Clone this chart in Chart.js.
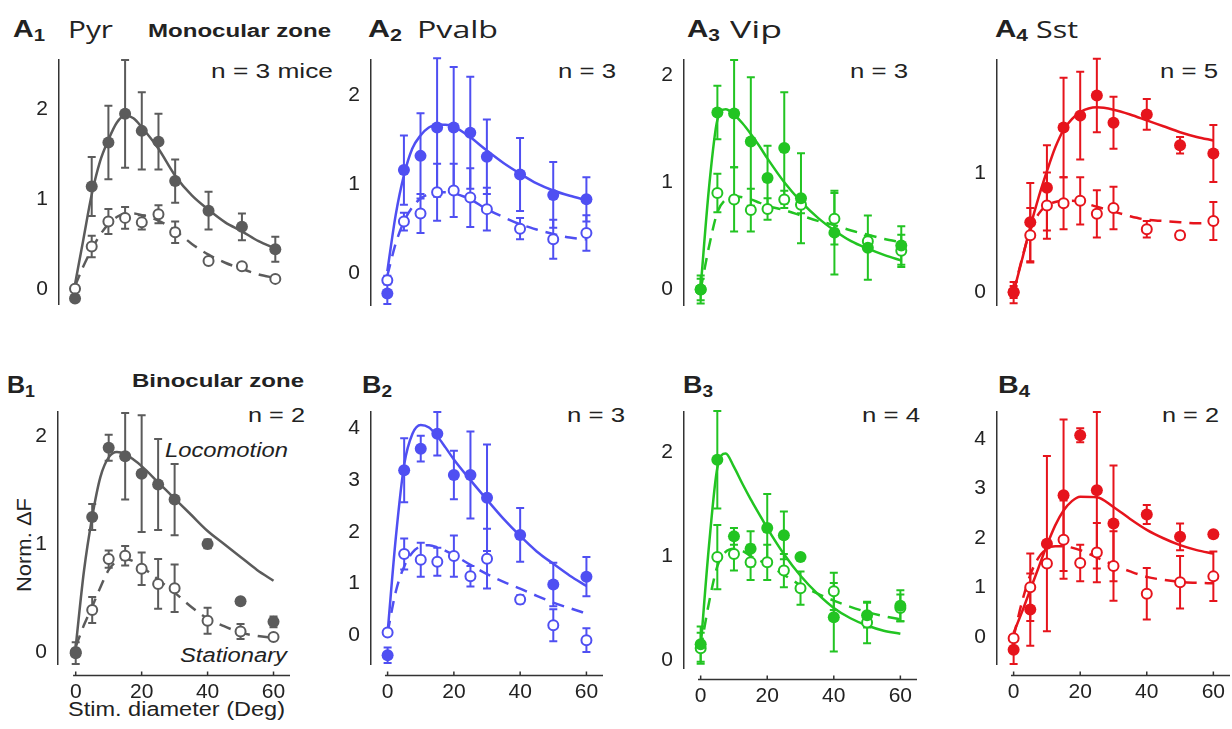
<!DOCTYPE html>
<html>
<head>
<meta charset="utf-8">
<script src="https://cdn.jsdelivr.net/npm/chart.js@4"></script>
<style>
  body { margin: 0; background: #fff; width: 1232px; height: 729px; position: relative; overflow: hidden; }
  .panel { position: absolute; }
  .txt { position: absolute; white-space: nowrap; line-height: 1; color: #222; font-family: "Liberation Sans", Arial, sans-serif; transform-origin: left center; }
  .lbl { font-weight: bold; font-size: 24px; }
  .lbl sub { font-size: 17px; vertical-align: -4px; line-height: 1; }
  .cell { font-family: "Open Sans", sans-serif; font-size: 23px; color: #222; }
  .zone { font-weight: bold; font-size: 18px; }
  .n { font-size: 20px; }
  .it { font-style: italic; font-size: 20px; }
</style>
</head>
<body>
<!-- panel letters and cell types -->
<div class="txt lbl" style="left:13px;top:16.7px" data-w="32">A<sub>1</sub></div>
<div class="txt cell" style="left:68px;top:17.6px" data-w="45">Pyr</div>
<div class="txt lbl" style="left:368px;top:16.7px" data-w="34">A<sub>2</sub></div>
<div class="txt cell" style="left:417px;top:17.6px" data-w="81">Pvalb</div>
<div class="txt lbl" style="left:687px;top:16.7px" data-w="33">A<sub>3</sub></div>
<div class="txt cell" style="left:730px;top:17.6px" data-w="52">Vip</div>
<div class="txt lbl" style="left:995px;top:16.7px" data-w="33">A<sub>4</sub></div>
<div class="txt cell" style="left:1036px;top:17.6px" data-w="42">Sst</div>
<div class="txt lbl" style="left:7px;top:372.7px" data-w="28">B<sub>1</sub></div>
<div class="txt lbl" style="left:362px;top:372.7px" data-w="30">B<sub>2</sub></div>
<div class="txt lbl" style="left:683px;top:372.7px" data-w="30">B<sub>3</sub></div>
<div class="txt lbl" style="left:998px;top:372.7px" data-w="32">B<sub>4</sub></div>

<div class="txt zone" style="left:148px;top:21.8px" data-w="183">Monocular zone</div>
<div class="txt zone" style="left:132px;top:371.8px" data-w="172">Binocular zone</div>

<!-- number of mice -->
<div class="txt n" style="left:211px;top:61.1px" data-w="122">n = 3 mice</div>
<div class="txt n" style="left:558px;top:61.1px" data-w="58">n = 3</div>
<div class="txt n" style="left:850px;top:61.1px" data-w="58">n = 3</div>
<div class="txt n" style="left:1160px;top:61.1px" data-w="58">n = 5</div>
<div class="txt n" style="left:248px;top:405.1px" data-w="57">n = 2</div>
<div class="txt n" style="left:567px;top:405.1px" data-w="58">n = 3</div>
<div class="txt n" style="left:862px;top:405.1px" data-w="58">n = 4</div>
<div class="txt n" style="left:1162px;top:405.1px" data-w="57">n = 2</div>

<div class="txt it" style="left:165px;top:440.1px" data-w="123">Locomotion</div>
<div class="txt it" style="left:180px;top:645px" data-w="107">Stationary</div>
<div class="txt n" style="left:68px;top:699px" data-w="217">Stim. diameter (Deg)</div>
<div class="txt n" style="left:-36px;top:535px;width:120px;text-align:center;transform-origin:center center;transform:rotate(-90deg) scaleX(1.1)">Norm. ΔF</div>

<script>
// Stimulus diameters (deg) and sample positions along the fitted curves
const diameters = [0, 5, 10, 15, 20, 25, 30, 40, 50, 60];
const fitDiameters = [0, 2.5, 5, 7.5, 10, 12.5, 15, 17.5, 20, 25, 30, 35, 40, 45, 50, 55, 60];
const xTicks = [0, 20, 40, 60];

// A1 Pyr, monocular
const pyrMonoLoco = [-0.11, 1.14, 1.63, 1.95, 1.76, 1.64, 1.2, 0.87, 0.69, 0.44];
const pyrMonoLocoErr = [0.03, 0.33, 0.41, 0.6, 0.43, 0.31, 0.24, 0.21, 0.15, 0.14];
const pyrMonoStat = [0.0, 0.47, 0.75, 0.79, 0.74, 0.83, 0.63, 0.31, 0.25, 0.11];
const pyrMonoStatErr = [0.02, 0.12, 0.14, 0.12, 0.08, 0.1, 0.12, 0.02, 0.03, 0.02];
const pyrMonoLocoFit = [0.05, 0.55, 1.05, 1.42, 1.66, 1.85, 1.93, 1.9, 1.8, 1.56, 1.26, 1.04, 0.88, 0.74, 0.64, 0.53, 0.45];
const pyrMonoStatFit = [0.03, 0.25, 0.44, 0.6, 0.72, 0.8, 0.84, 0.84, 0.82, 0.76, 0.65, 0.5, 0.38, 0.29, 0.22, 0.16, 0.12];

// A2 Pvalb, monocular
const pvalbMonoLoco = [-0.23, 1.16, 1.32, 1.64, 1.64, 1.58, 1.31, 1.11, 0.88, 0.83];
const pvalbMonoLocoErr = [0.12, 0.39, 0.48, 0.78, 0.68, 0.63, 0.42, 0.41, 0.37, 0.25];
const pvalbMonoStat = [-0.08, 0.58, 0.67, 0.91, 0.93, 0.85, 0.72, 0.5, 0.38, 0.45];
const pvalbMonoStatErr = [0.05, 0.1, 0.22, 0.32, 0.3, 0.33, 0.24, 0.12, 0.22, 0.2];
const pvalbMonoLocoFit = [0.02, 0.65, 1.1, 1.4, 1.55, 1.64, 1.67, 1.67, 1.65, 1.53, 1.38, 1.24, 1.12, 1.01, 0.93, 0.87, 0.82];
const pvalbMonoStatFit = [-0.03, 0.33, 0.58, 0.74, 0.84, 0.89, 0.91, 0.91, 0.9, 0.83, 0.72, 0.63, 0.55, 0.49, 0.44, 0.4, 0.38];

// A3 Vip, monocular
const vipMonoLoco = [0.0, 1.65, 1.64, 1.38, 1.04, 1.32, 0.85, 0.53, 0.39, 0.41];
const vipMonoLocoErr = [0.13, 0.25, 0.5, 0.6, 0.3, 0.52, 0.42, 0.39, 0.3, 0.18];
const vipMonoStat = [0.0, 0.9, 0.84, 0.74, 0.75, 0.84, 0.79, 0.66, 0.45, 0.36];
const vipMonoStatErr = [0.1, 0.18, 0.3, 0.2, 0.1, 0.08, 0.08, 0.24, 0.05, 0.15];
const vipMonoLocoFit = [0.02, 0.95, 1.58, 1.68, 1.63, 1.55, 1.45, 1.34, 1.22, 1.0, 0.82, 0.67, 0.55, 0.45, 0.38, 0.32, 0.27];
const vipMonoStatFit = [0.0, 0.4, 0.72, 0.84, 0.87, 0.86, 0.84, 0.81, 0.78, 0.74, 0.69, 0.64, 0.6, 0.55, 0.51, 0.47, 0.44];

// A4 Sst, monocular
const sstMonoLoco = [-0.005, 0.59, 0.88, 1.39, 1.49, 1.66, 1.43, 1.5, 1.24, 1.17];
const sstMonoLocoErr = [0.09, 0.33, 0.36, 0.42, 0.37, 0.31, 0.22, 0.13, 0.07, 0.24];
const sstMonoStat = [0.0, 0.48, 0.73, 0.75, 0.77, 0.66, 0.71, 0.53, 0.48, 0.6];
const sstMonoStatErr = [0.05, 0.23, 0.28, 0.22, 0.2, 0.2, 0.18, 0.07, 0.03, 0.16];
const sstMonoLocoFit = [0.0, 0.27, 0.55, 0.8, 1.02, 1.22, 1.37, 1.46, 1.52, 1.56, 1.54, 1.5, 1.45, 1.4, 1.35, 1.31, 1.28];
const sstMonoStatFit = [0.0, 0.28, 0.52, 0.66, 0.73, 0.76, 0.77, 0.77, 0.76, 0.72, 0.68, 0.64, 0.61, 0.6, 0.59, 0.58, 0.58];

// B1 Pyr, binocular
const pyrBinoLoco = [-0.01, 1.25, 1.89, 1.81, 1.65, 1.55, 1.41, 1.0, 0.47, 0.28];
const pyrBinoLocoErr = [0.1, 0.12, 0.12, 0.4, 0.54, 0.42, 0.33, 0.04, 0.02, 0.05];
const pyrBinoStat = [0.0, 0.39, 0.86, 0.89, 0.77, 0.63, 0.59, 0.29, 0.19, 0.14];
const pyrBinoStatErr = [0.03, 0.12, 0.08, 0.09, 0.15, 0.23, 0.22, 0.12, 0.07, 0.02];
const pyrBinoLocoFit = [0.05, 0.75, 1.25, 1.62, 1.8, 1.85, 1.83, 1.78, 1.72, 1.57, 1.42, 1.27, 1.12, 1.0, 0.88, 0.76, 0.66];
const pyrBinoStatFit = [0.05, 0.25, 0.42, 0.6, 0.76, 0.84, 0.86, 0.84, 0.79, 0.67, 0.55, 0.42, 0.31, 0.24, 0.18, 0.15, 0.13];

// B2 Pvalb, binocular
const pvalbBinoLoco = [-0.39, 3.19, 3.61, 3.9, 3.1, 3.1, 2.66, 1.94, 0.98, 1.13];
const pvalbBinoLocoErr = [0.15, 0.62, 0.25, 0.42, 0.47, 0.84, 1.03, 0.52, 0.42, 0.38];
const pvalbBinoStat = [0.05, 1.57, 1.46, 1.42, 1.53, 1.14, 1.48, 0.69, 0.19, -0.1];
const pvalbBinoStatErr = [0.03, 0.3, 0.33, 0.27, 0.4, 0.2, 0.58, 0.08, 0.31, 0.23];
const pvalbBinoLocoFit = [0.05, 1.9, 3.3, 3.9, 4.07, 4.02, 3.85, 3.63, 3.4, 3.0, 2.62, 2.25, 1.92, 1.62, 1.38, 1.15, 0.95];
const pvalbBinoStatFit = [0.05, 0.85, 1.33, 1.6, 1.72, 1.74, 1.7, 1.63, 1.55, 1.36, 1.18, 1.03, 0.9, 0.76, 0.63, 0.52, 0.42];

// B3 Vip, binocular
const vipBinoLoco = [0.15, 1.93, 1.19, 1.07, 1.27, 1.2, 0.99, 0.41, 0.43, 0.52];
const vipBinoLocoErr = [0.17, 0.47, 0.08, 0.17, 0.33, 0.23, 0.02, 0.33, 0.12, 0.15];
const vipBinoStat = [0.11, 0.99, 1.02, 0.94, 0.94, 0.86, 0.69, 0.66, 0.36, 0.5];
const vipBinoStatErr = [0.15, 0.31, 0.16, 0.17, 0.17, 0.16, 0.16, 0.18, 0.2, 0.13];
const vipBinoLocoFit = [0.12, 1.1, 1.85, 1.99, 1.86, 1.7, 1.55, 1.41, 1.27, 1.02, 0.81, 0.64, 0.5, 0.4, 0.33, 0.28, 0.25];
const vipBinoStatFit = [0.1, 0.55, 0.9, 1.04, 1.07, 1.05, 1.0, 0.96, 0.92, 0.82, 0.72, 0.64, 0.57, 0.51, 0.46, 0.42, 0.39];

// B4 Sst, binocular
const sstBinoLoco = [-0.26, 0.55, 1.88, 2.86, 4.07, 2.96, 2.29, 2.47, 2.02, 2.07];
const sstBinoLocoErr = [0.29, 0.73, 1.77, 1.53, 0.14, 1.58, 1.17, 0.19, 0.27, 0.03];
const sstBinoStat = [-0.03, 1.0, 1.48, 1.96, 1.49, 1.7, 1.43, 0.87, 1.1, 1.22];
const sstBinoStatErr = [0.06, 0.68, 0.05, 0.79, 0.37, 0.6, 0.7, 0.52, 0.53, 0.5];
const sstBinoLocoFit = [0.08, 0.5, 0.95, 1.4, 1.85, 2.25, 2.55, 2.74, 2.83, 2.82, 2.62, 2.38, 2.16, 1.99, 1.85, 1.75, 1.68];
const sstBinoStatFit = [0.0, 0.7, 1.25, 1.6, 1.78, 1.83, 1.83, 1.8, 1.75, 1.6, 1.45, 1.32, 1.21, 1.15, 1.11, 1.09, 1.08];

// y tick values per panel
const yTicks012 = [0, 1, 2];
const yTicks01 = [0, 1];
const yTicks01234 = [0, 1, 2, 3, 4];

// colours
const grayCol = "#5b5b5b";
const blueCol = "#4f4ff2";
const greenCol = "#22c422";
const redCol = "#e6141c";

// Panel layout (pixel boxes of the axes in the page)
const panels = [
  { color: grayCol, loco: pyrMonoLoco, locoErr: pyrMonoLocoErr, stat: pyrMonoStat, statErr: pyrMonoStatErr, locoFit: pyrMonoLocoFit, statFit: pyrMonoStatFit,
    yMin: -0.17, yMax: 2.55, yTicks: yTicks012, axisX: 59, x0: 75, x60: 275, top: 60, bottom: 312, xAxis: false },
  { color: blueCol, loco: pvalbMonoLoco, locoErr: pvalbMonoLocoErr, stat: pvalbMonoStat, statErr: pvalbMonoStatErr, locoFit: pvalbMonoLocoFit, statFit: pvalbMonoStatFit,
    yMin: -0.36, yMax: 2.4, yTicks: yTicks012, axisX: 371, x0: 387.3, x60: 586, top: 60, bottom: 312.7, xAxis: false },
  { color: greenCol, loco: vipMonoLoco, locoErr: vipMonoLocoErr, stat: vipMonoStat, statErr: vipMonoStatErr, locoFit: vipMonoLocoFit, statFit: vipMonoStatFit,
    yMin: -0.145, yMax: 2.14, yTicks: yTicks012, axisX: 684, x0: 700.7, x60: 901.7, top: 60, bottom: 312.7, xAxis: false },
  { color: redCol, loco: sstMonoLoco, locoErr: sstMonoLocoErr, stat: sstMonoStat, statErr: sstMonoStatErr, locoFit: sstMonoLocoFit, statFit: sstMonoStatFit,
    yMin: -0.11, yMax: 1.96, yTicks: yTicks01, axisX: 996.7, x0: 1013.3, x60: 1212.7, top: 60, bottom: 312.7, xAxis: false },
  { color: grayCol, loco: pyrBinoLoco, locoErr: pyrBinoLocoErr, stat: pyrBinoStat, statErr: pyrBinoStatErr, locoFit: pyrBinoLocoFit, statFit: pyrBinoStatFit,
    yMin: -0.11, yMax: 2.22, yTicks: yTicks012, axisX: 58, x0: 75.7, x60: 273.3, top: 411.7, bottom: 663.3, xAxis: true },
  { color: blueCol, loco: pvalbBinoLoco, locoErr: pvalbBinoLocoErr, stat: pvalbBinoStat, statErr: pvalbBinoStatErr, locoFit: pvalbBinoLocoFit, statFit: pvalbBinoStatFit,
    yMin: -0.56, yMax: 4.32, yTicks: yTicks01234, axisX: 370.7, x0: 387.3, x60: 586, top: 411.7, bottom: 664, xAxis: true },
  { color: greenCol, loco: vipBinoLoco, locoErr: vipBinoLocoErr, stat: vipBinoStat, statErr: vipBinoStatErr, locoFit: vipBinoLocoFit, statFit: vipBinoStatFit,
    yMin: -0.08, yMax: 2.39, yTicks: yTicks012, axisX: 684, x0: 700.7, x60: 900.7, top: 412.3, bottom: 668.3, xAxis: true },
  { color: redCol, loco: sstBinoLoco, locoErr: sstBinoLocoErr, stat: sstBinoStat, statErr: sstBinoStatErr, locoFit: sstBinoLocoFit, statFit: sstBinoStatFit,
    yMin: -0.55, yMax: 4.54, yTicks: yTicks01234, axisX: 996.7, x0: 1013.3, x60: 1212.7, top: 411.7, bottom: 664, xAxis: true },
];

// Error bars drawn under the markers, using the chart's y scale
const errorBarPlugin = {
  id: "errorBars",
  beforeDatasetsDraw(chart) {
    const ctx = chart.ctx;
    const yScale = chart.scales.y;
    chart.data.datasets.forEach((ds, i) => {
      if (!ds.errorBars) return;
      const meta = chart.getDatasetMeta(i);
      ctx.save();
      ctx.strokeStyle = ds.borderColor;
      ctx.lineWidth = 2;
      meta.data.forEach((pt, j) => {
        const v = ds.data[j].y;
        const e = ds.errorBars[j];
        const top = yScale.getPixelForValue(v + e);
        const bot = yScale.getPixelForValue(v - e);
        ctx.beginPath();
        ctx.moveTo(pt.x, top);
        ctx.lineTo(pt.x, bot);
        ctx.moveTo(pt.x - 4, top);
        ctx.lineTo(pt.x + 4, top);
        ctx.moveTo(pt.x - 4, bot);
        ctx.lineTo(pt.x + 4, bot);
        ctx.stroke();
      });
      ctx.restore();
    });
  },
};

// Detached x axis line below the plot (MATLAB-style offset axes)
const offsetAxisPlugin = {
  id: "offsetAxis",
  afterDraw(chart, args, opts) {
    if (!opts.show) return;
    const x = chart.scales.x;
    const area = chart.chartArea;
    const ctx = chart.ctx;
    const yLine = area.bottom + opts.gap;
    ctx.save();
    ctx.strokeStyle = "#333";
    ctx.lineWidth = 1.5;
    ctx.beginPath();
    ctx.moveTo(x.getPixelForValue(opts.from), yLine);
    ctx.lineTo(area.right, yLine);
    opts.ticks.forEach((v) => {
      const px = x.getPixelForValue(v);
      ctx.moveTo(px, yLine);
      ctx.lineTo(px, yLine - 4);
    });
    ctx.stroke();
    ctx.restore();
  },
};

const toPoints = (xs, ys) => xs.map((x, i) => ({ x: x, y: ys[i] }));

const padL = 50, padR = 8, padT = 8;

panels.forEach((p) => {
  const pxPerDeg = (p.x60 - p.x0) / 60;
  const xMin = -(p.x0 - p.axisX) / pxPerDeg;
  const areaW = (65 - xMin) * pxPerDeg;
  const bottomSpace = p.xAxis ? 42 : 8;
  const w = Math.round(padL + areaW + padR);
  const h = Math.round(padT + (p.bottom - p.top) + bottomSpace);

  const wrap = document.createElement("div");
  wrap.className = "panel";
  wrap.style.left = p.axisX - padL + "px";
  wrap.style.top = p.top - padT + "px";
  wrap.style.width = w + "px";
  wrap.style.height = h + "px";
  const canvas = document.createElement("canvas");
  canvas.width = w;
  canvas.height = h;
  wrap.appendChild(canvas);
  document.body.appendChild(wrap);

  new Chart(canvas.getContext("2d"), {
    type: "scatter",
    data: {
      datasets: [
        {
          label: "Locomotion",
          data: toPoints(diameters, p.loco),
          errorBars: p.locoErr,
          backgroundColor: p.color,
          borderColor: p.color,
          pointRadius: 6,
          pointBorderWidth: 0,
          clip: false,
        },
        {
          label: "Stationary",
          data: toPoints(diameters, p.stat),
          errorBars: p.statErr,
          backgroundColor: "#ffffff",
          borderColor: p.color,
          pointRadius: 5,
          pointBorderWidth: 2,
          clip: false,
        },
        {
          label: "Locomotion fit",
          data: toPoints(fitDiameters, p.locoFit),
          showLine: true,
          borderColor: p.color,
          borderWidth: 2.5,
          pointRadius: 0,
          cubicInterpolationMode: "monotone",
          clip: false,
        },
        {
          label: "Stationary fit",
          data: toPoints(fitDiameters, p.statFit),
          showLine: true,
          borderColor: p.color,
          borderWidth: 2.5,
          borderDash: [12, 8],
          pointRadius: 0,
          cubicInterpolationMode: "monotone",
          clip: false,
        },
      ],
    },
    options: {
      responsive: false,
      animation: false,
      layout: {
        autoPadding: false,
        padding: { top: padT, right: padR, left: 0, bottom: p.xAxis ? 0 : bottomSpace },
      },
      plugins: {
        legend: { display: false },
        tooltip: { enabled: false },
        offsetAxis: { show: p.xAxis, gap: 11.5, from: -0.8, ticks: xTicks },
      },
      scales: {
        x: {
          type: "linear",
          min: xMin,
          max: 65,
          display: p.xAxis,
          grid: { display: false, drawTicks: false },
          border: { display: false },
          afterBuildTicks: (s) => { s.ticks = xTicks.map((v) => ({ value: v })); },
          afterFit: (s) => {
            s.height = bottomSpace;
            s.paddingLeft = 0;
            s.paddingRight = 0;
          },
          ticks: {
            padding: 16,
            color: "#222",
            font: { family: "Liberation Sans", size: 21 },
            maxRotation: 0,
          },
        },
        y: {
          min: p.yMin,
          max: p.yMax,
          grid: { display: false, drawTicks: false },
          border: { display: true, color: "#333", width: 1.5 },
          afterBuildTicks: (s) => { s.ticks = p.yTicks.map((v) => ({ value: v })); },
          afterFit: (s) => {
            s.width = padL;
            s.paddingTop = 0;
            s.paddingBottom = 0;
          },
          ticks: {
            padding: 11,
            color: "#222",
            font: { family: "Liberation Sans", size: 21 },
          },
        },
      },
    },
    plugins: [errorBarPlugin, offsetAxisPlugin],
  });
});

// stretch text labels horizontally to the widths seen in the figure
document.querySelectorAll(".txt[data-w]").forEach((el) => {
  const w = el.getBoundingClientRect().width;
  el.style.transform = "scaleX(" + (Number(el.dataset.w) / w).toFixed(3) + ")";
});
</script>
</body>
</html>
